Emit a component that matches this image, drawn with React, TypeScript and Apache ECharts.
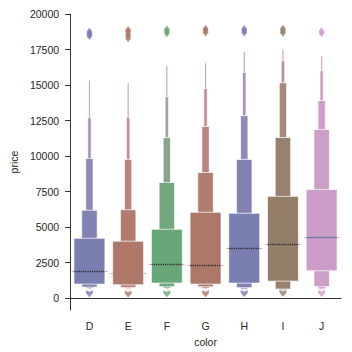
import React, { useEffect, useRef } from "react";
import * as echarts from "echarts";

const categories = ["D", "E", "F", "G", "H", "I", "J"];
const yTicks = [0, 2500, 5000, 7500, 10000, 12500, 15000, 17500, 20000];

// letter-value box ends, level 0 = innermost (Q1..Q3)
const upper0 = [4210, 4000, 4840, 6040, 5970, 7160, 7650];
const lower0 = [980, 930, 1050, 980, 1050, 1190, 1920];
const upper1 = [6180, 6220, 8140, 8840, 9760, 11300, 11860];
const lower1 = [770, 750, 790, 790, 730, 630, 800];
const upper2 = [9830, 9760, 11300, 12070, 12840, 15160, 13900];
const lower2 = [680, 670, 680, 680, 630, 570, 640];
const upper3 = [12700, 12730, 14180, 14740, 15890, 16700, 16000];
const lower3 = [620, 610, 620, 620, 580, 530, 590];
const upper4 = [15300, 15130, 16350, 16540, 17360, 17480, 17000];
const lower4 = [560, 550, 560, 560, 530, 500, 540];
const medians = [1918, 1755, 2386, 2316, 3509, 3790, 4281];

const topOutliers = [
  [18450, 18550, 18650, 18750],
  [18300, 18450, 18600, 18750, 18880],
  [18650, 18800, 18900],
  [18700, 18850, 18950],
  [18700, 18820, 18940],
  [18680, 18820, 18960],
  [18670, 18790],
];
const bottomOutliers = [300, 290, 300, 300, 320, 330, 320];

const baseColors = ["#7a7fb2", "#ad7868", "#68a778", "#ad7868", "#7a7fb2", "#937f68", "#cc9dc6"];
const lightColor = [214, 166, 194];
const blend = [0, 0.08, 0.25, 0.5, 0.9];
const widthFactors = [0.8, 0.4, 0.19, 0.09, 0.03];
const medianColors = ["#2a2a2a", "#ad7868", "#2a2a2a", "#2a2a2a", "#2a2a2a", "#2a2a2a", "#7a7fb2"];

function hexToRgb(h: string) {
  return [parseInt(h.slice(1, 3), 16), parseInt(h.slice(3, 5), 16), parseInt(h.slice(5, 7), 16)];
}
function levelColor(cat: number, lvl: number) {
  const b = hexToRgb(baseColors[cat]);
  const t = blend[lvl];
  const c = b.map((v, i) => Math.round(v * (1 - t) + lightColor[i] * t));
  return `rgb(${c[0]},${c[1]},${c[2]})`;
}

export default function App() {
  const ref = useRef<HTMLDivElement>(null);
  useEffect(() => {
    const chart = echarts.init(ref.current!, null, { renderer: "svg" });
    const uppers = [upper0, upper1, upper2, upper3, upper4];
    const lowers = [lower0, lower1, lower2, lower3, lower4];
    const boxData: number[][] = [];
    for (let lvl = 4; lvl >= 0; lvl--) {
      categories.forEach((_, i) => boxData.push([i, lowers[lvl][i], uppers[lvl][i], lvl]));
    }
    const topData: number[][] = [];
    topOutliers.forEach((arr, i) => arr.forEach((v) => topData.push([i, v])));
    const botData = bottomOutliers.map((v, i) => [i, v]);
    const font = "Liberation Sans, Arial, sans-serif";

    chart.setOption({
      animation: false,
      grid: { left: 62, right: 11, top: 14, bottom: 41 },
      xAxis: {
        type: "category",
        data: categories,
        axisLine: { lineStyle: { color: "#333", width: 1 } },
        axisTick: { length: 5, alignWithLabel: true, lineStyle: { color: "#333" } },
        axisLabel: { color: "#262626", fontSize: 10.5, fontFamily: font, margin: 10 },
        name: "color",
        nameLocation: "middle",
        nameGap: 21,
        nameTextStyle: { color: "#262626", fontSize: 10.5, fontFamily: font },
      },
      yAxis: {
        type: "value",
        min: -850,
        max: 20000,
        splitLine: { show: false },
        axisLine: { show: true, lineStyle: { color: "#333", width: 1 } },
        axisTick: { show: true, length: 5, customValues: yTicks, lineStyle: { color: "#333" } },
        axisLabel: {
          color: "#262626",
          fontSize: 10.5,
          fontFamily: font,
          margin: 11,
          customValues: yTicks,
          formatter: (v: number) => String(v),
        },
        name: "price",
        nameLocation: "middle",
        nameGap: 46,
        nameTextStyle: { color: "#262626", fontSize: 10.5, fontFamily: font },
      },
      series: [
        {
          type: "custom",
          data: boxData,
          encode: { x: 0, y: [1, 2] },
          renderItem: (params: any, api: any) => {
            const cat = api.value(0);
            const lo = api.value(1);
            const hi = api.value(2);
            const lvl = api.value(3);
            const p1 = api.coord([cat, hi]);
            const p2 = api.coord([cat, lo]);
            const band = api.size([1, 0])[0];
            const w = Math.max(1, band * widthFactors[lvl]);
            return {
              type: "rect",
              shape: { x: p1[0] - w / 2, y: p1[1], width: w, height: p2[1] - p1[1] },
              style: {
                fill: levelColor(cat, lvl),
                stroke: lvl === 4 ? null : "#ffffff",
                lineWidth: lvl === 4 ? 0 : 0.7,
              },
            };
          },
          z: 2,
        },
        {
          type: "custom",
          data: medians.map((m, i) => [i, m]),
          encode: { x: 0, y: 1 },
          renderItem: (params: any, api: any) => {
            const cat = api.value(0);
            const p = api.coord([cat, api.value(1)]);
            const band = api.size([1, 0])[0];
            const w1 = band * 0.92;
            const w2 = band * 0.78;
            const y = Math.round(p[1]) + 0.5;
            return {
              type: "group",
              children: [
                {
                  type: "line",
                  shape: { x1: p[0] - w1 / 2, y1: y, x2: p[0] - w2 / 2, y2: y },
                  style: { stroke: "#d4a2c0", lineWidth: 1 },
                },
                {
                  type: "line",
                  shape: { x1: p[0] + w2 / 2, y1: y, x2: p[0] + w1 / 2, y2: y },
                  style: { stroke: "#d4a2c0", lineWidth: 1 },
                },
                {
                  type: "line",
                  shape: { x1: p[0] - w2 / 2, y1: y, x2: p[0] + w2 / 2, y2: y },
                  style: {
                    stroke: medianColors[cat],
                    lineWidth: 1.5,
                    lineDash: cat === 6 ? null : [1.2, 1],
                  },
                },
              ],
            };
          },
          z: 3,
        },
        {
          type: "scatter",
          data: topData,
          symbol: "diamond",
          symbolSize: [6, 8],
          itemStyle: { color: (p: any) => baseColors[p.value[0]] },
          z: 4,
        },
        {
          type: "scatter",
          data: botData,
          symbol: "path://M0,0 L3,1.5 L6,0 L6,3 L3,7 L0,3 Z",
          symbolSize: [7, 7],
          itemStyle: { color: (p: any) => baseColors[p.value[0]] },
          z: 4,
        },
      ],
    });
    return () => chart.dispose();
  }, []);
  return (
    <div
      ref={ref}
      style={{ position: "fixed", left: 0, top: 0, width: 352, height: 352, background: "#fff" }}
    />
  );
}
